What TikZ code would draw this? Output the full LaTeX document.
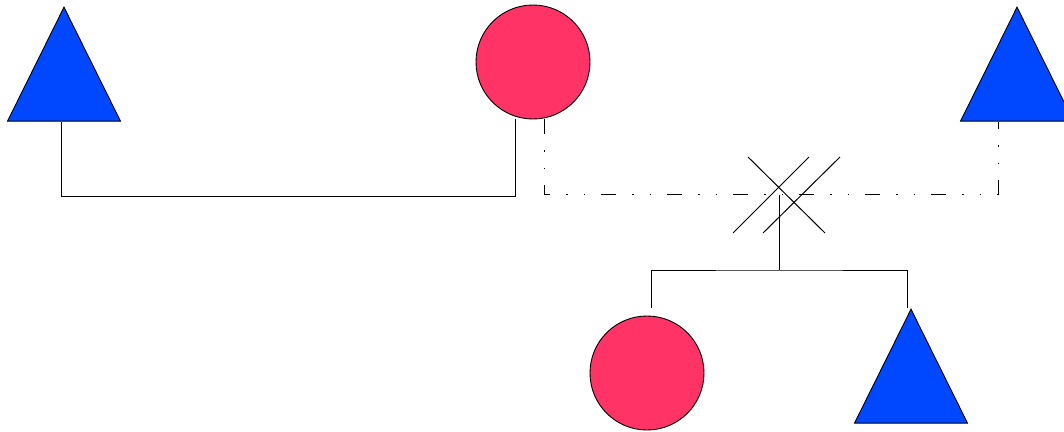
\documentclass[tikz,border=0pt]{standalone}
\usetikzlibrary{shapes.geometric,calc}

\definecolor{maleblue}{RGB}{0,72,255}
\definecolor{femalered}{RGB}{255,51,102}

\tikzset{
    male/.style={isosceles triangle, isosceles triangle stretches,
        shape border rotate=90, minimum width=113pt, minimum height=114pt,
        inner sep=0pt, draw=black, fill=maleblue, line width=0.9pt},
    female/.style={circle, minimum size=114pt, inner sep=0pt,
        draw=black, fill=femalered, line width=0.9pt},
    tie/.style={line width=1pt},
    dashdot tie/.style={line width=1pt,
        dash pattern=on 15pt off 16pt on 1.5pt off 16pt on 1.5pt off 16pt}
}

\begin{document}
\begin{tikzpicture}[x=1pt, y=-1pt]

    \useasboundingbox (0,0) rectangle (1064,431);

    % ============================================================
    % PARENTS
    % ============================================================
    \node[male, anchor=apex] (fatherA) at (64,6) {};
    \node[female] (mother) at (533,62) {};
    \node[male, anchor=apex] (fatherB) at (1017,6) {};

    % ============================================================
    % UNIONS
    % ============================================================
    \draw[tie] ([xshift=-3pt]fatherA.south) -- ++(0,75)
        -| ([xshift=-18pt]mother.south);
    \draw[dashdot tie] ([xshift=11pt]mother.south) -- ++(0,75)
        -| ([xshift=-19pt]fatherB.south);

    % ============================================================
    % SEPARATION MARK
    % ============================================================
    \coordinate (union) at (779,195);
    \draw[tie] (748,157) -- (825,233);
    \draw[tie] (733,233) -- (809,157);
    \draw[tie] (763,233) -- (840,157);

    % ============================================================
    % CHILDREN
    % ============================================================
    \node[female] (daughter) at (647,373) {};
    \node[male, anchor=apex] (son) at (911,308) {};

    \draw[tie] (union) -- ++(0,75) coordinate (sibs);
    \draw[tie] ($(daughter.north)+(4,-8)$) |- (sibs)
        -| ([xshift=-4pt]son.apex);

\end{tikzpicture}
\end{document}
